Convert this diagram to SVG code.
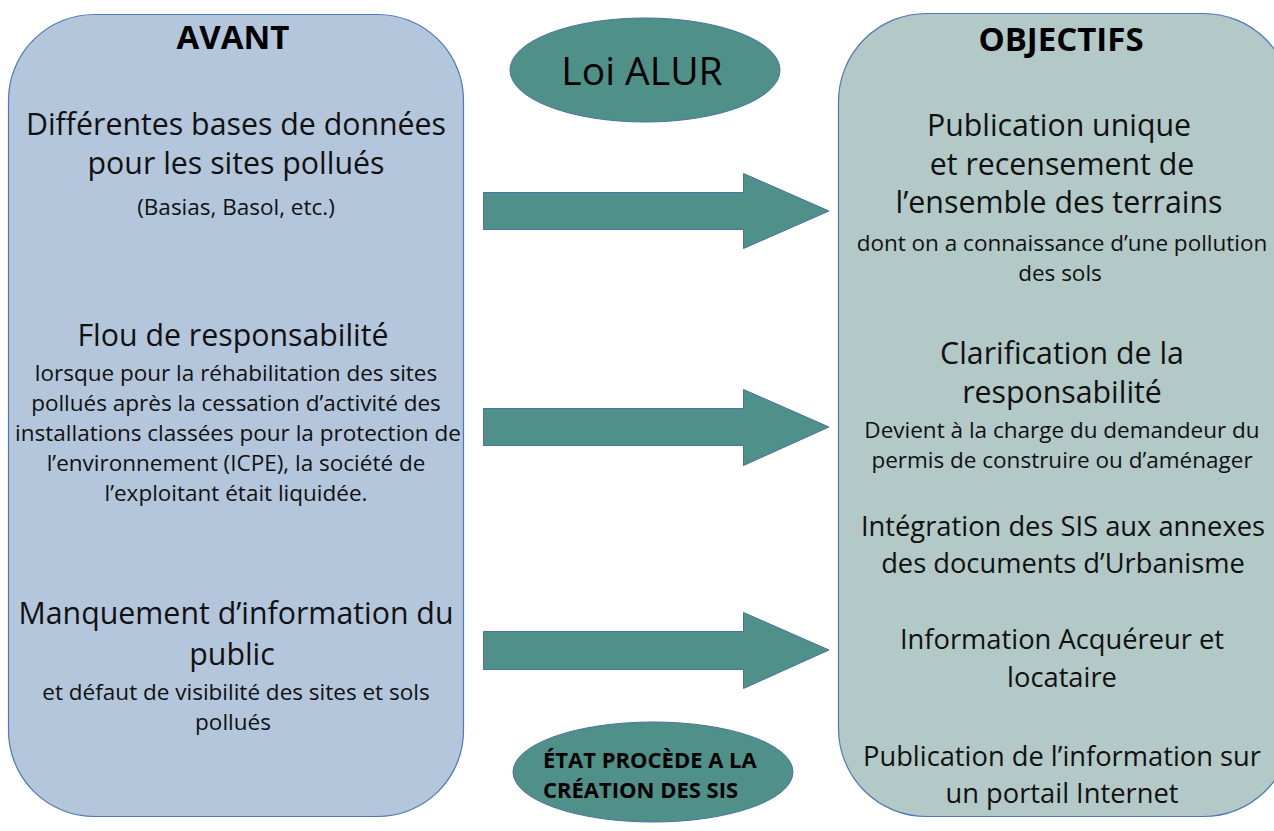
<svg xmlns="http://www.w3.org/2000/svg" width="1274" height="831" viewBox="0 0 1274 831">
<style>
.t{font-family:"Open Sans","Noto Sans",sans-serif;fill:#111;text-anchor:middle}
.big{font-size:30.3px}
.mid{font-size:27.3px}
.sm{font-size:22.5px}
.hd{font-family:"Open Sans","Noto Sans",sans-serif;font-weight:bold;font-size:33px;fill:#000;text-anchor:middle}
.teal{fill:#4F9189;stroke:#4A72A8;stroke-width:1}
.et{font-family:"Open Sans","Noto Sans",sans-serif;font-weight:bold;font-size:22px;fill:#000}
</style>
<rect width="1274" height="831" fill="#fff"/>
<g id="avant">
<rect x="8.5" y="14.5" width="455" height="802" rx="86" ry="86" fill="#B4C6DC" stroke="#4E78B5" stroke-width="1.2"/>
<text class="hd" x="233" y="49">AVANT</text>
<text class="t big" x="236" y="135">Différentes bases de données</text>
<text class="t big" x="236" y="174">pour les sites pollués</text>
<text class="t sm" x="236" y="215">(Basias, Basol, etc.)</text>
<text class="t big" x="233" y="346">Flou de responsabilité</text>
<text class="t sm" x="236" y="381">lorsque pour la réhabilitation des sites</text>
<text class="t sm" x="236" y="411">pollués après la cessation d’activité des</text>
<text class="t sm" x="238" y="441">installations classées pour la protection de</text>
<text class="t sm" x="236" y="471">l’environnement (ICPE), la société de</text>
<text class="t sm" x="236" y="501">l’exploitant était liquidée.</text>
<text class="t big" x="236" y="624">Manquement d’information du</text>
<text class="t big" x="232" y="665">public</text>
<text class="t sm" x="236" y="700">et défaut de visibilité des sites et sols</text>
<text class="t sm" x="233" y="730">pollués</text>
</g>
<g id="objectifs">
<rect x="838.5" y="13.5" width="453" height="803" rx="88" ry="88" fill="#B3C9C7" stroke="#4E78B5" stroke-width="1.2"/>
<text class="hd" x="1061" y="51">OBJECTIFS</text>
<text class="t big" x="1059" y="136">Publication unique</text>
<text class="t big" x="1062" y="175">et recensement de</text>
<text class="t big" x="1059" y="213">l’ensemble des terrains</text>
<text class="t sm" x="1062" y="251">dont on a connaissance d’une pollution</text>
<text class="t sm" x="1060" y="281">des sols</text>
<text class="t big" x="1062" y="364">Clarification de la</text>
<text class="t big" x="1062" y="403">responsabilité</text>
<text class="t sm" x="1062" y="438">Devient à la charge du demandeur du</text>
<text class="t sm" x="1062" y="468">permis de construire ou d’aménager</text>
<text class="t mid" x="1063" y="536">Intégration des SIS aux annexes</text>
<text class="t mid" x="1063" y="573">des documents d’Urbanisme</text>
<text class="t mid" x="1062" y="649">Information Acquéreur et</text>
<text class="t mid" x="1062" y="687">locataire</text>
<text class="t mid" x="1062" y="766">Publication de l’information sur</text>
<text class="t mid" x="1062" y="803">un portail Internet</text>
</g>
<g id="loi-alur">
<ellipse class="teal" cx="645" cy="70" rx="135" ry="52"/>
<text x="642" y="85" font-family="'Open Sans','Noto Sans',sans-serif" font-size="39" fill="#000" text-anchor="middle">Loi ALUR</text>
</g>
<g id="etat">
<ellipse class="teal" cx="653" cy="772" rx="140" ry="50"/>
<text class="et" x="543" y="768">ÉTAT PROCÈDE A LA</text>
<text class="et" x="543" y="798">CRÉATION DES SIS</text>
</g>
<g id="connectors">
<polygon class="teal" points="483.5,192.5 743.5,192.5 743.5,173.5 829,211 743.5,248.5 743.5,229.5 483.5,229.5"/>
<polygon class="teal" points="483.5,408.5 743.5,408.5 743.5,389.5 829,427 743.5,465.5 743.5,445.5 483.5,445.5"/>
<polygon class="teal" points="483.5,631.5 743.5,631.5 743.5,612.5 829,650 743.5,688.5 743.5,669.5 483.5,669.5"/>
</g>
</svg>
